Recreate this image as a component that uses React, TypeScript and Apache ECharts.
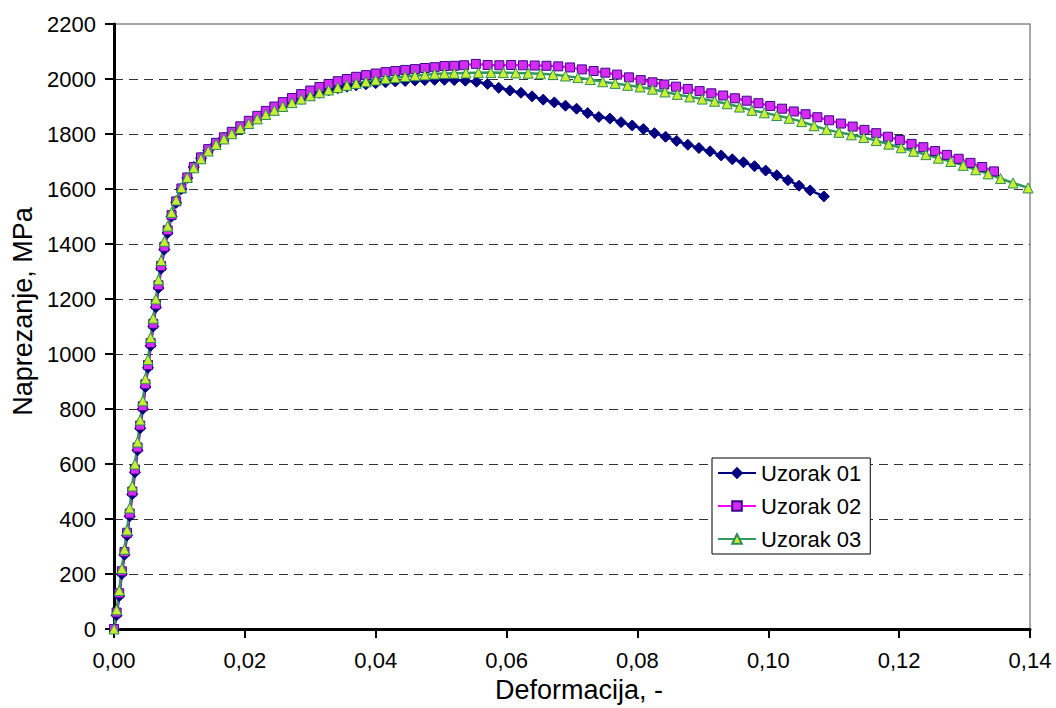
import React, { useEffect, useRef } from "react";
import * as echarts from "echarts";

const xTicks = [0, 0.02, 0.04, 0.06, 0.08, 0.1, 0.12, 0.14];
const seriesNames = ["Uzorak 01", "Uzorak 02", "Uzorak 03"];

const strainBase = [
  0, 0.0004, 0.0008, 0.0012, 0.0016, 0.002, 0.0024, 0.0028, 0.0032, 0.0036,
  0.004, 0.0044, 0.0048, 0.0052, 0.0056, 0.006, 0.0064, 0.0068, 0.0072, 0.0077,
  0.0082, 0.0088, 0.0095, 0.0103, 0.0112, 0.0122, 0.0133, 0.0144, 0.0156, 0.0168,
  0.018, 0.0193, 0.0206, 0.0219, 0.0232, 0.0245, 0.0258, 0.0272, 0.0286, 0.03,
  0.0314, 0.0328, 0.0342, 0.0356, 0.037, 0.0385, 0.04, 0.0415, 0.043, 0.0445,
  0.046, 0.0475, 0.049, 0.0505, 0.052,
];

const strain1 = [
  ...strainBase,
  0.0537, 0.0554, 0.0571, 0.0588, 0.0605, 0.0622, 0.0639, 0.0656, 0.0673, 0.069,
  0.0707, 0.0724, 0.0741, 0.0758, 0.0775, 0.0792, 0.0809, 0.0826, 0.0843, 0.086,
  0.0877, 0.0894, 0.0911, 0.0928, 0.0945, 0.0962, 0.0979, 0.0996, 0.1013, 0.103,
  0.1047, 0.1064, 0.1085,
];
const stress1 = [
  0, 50, 120, 200, 270, 340, 410, 490, 570, 650,
  730, 800, 880, 950, 1030, 1100, 1170, 1240, 1310, 1380,
  1440, 1500, 1550, 1600, 1640, 1680, 1712, 1740, 1765, 1785,
  1803, 1822, 1840, 1857, 1873, 1888, 1902, 1915, 1928, 1940,
  1950, 1959, 1966, 1972, 1977, 1981, 1985, 1988, 1991, 1993,
  1995, 1996, 1997, 1997, 1996,
  1994, 1990, 1982, 1968, 1958, 1950, 1937, 1925, 1915, 1903,
  1892, 1876, 1862, 1856, 1843, 1831, 1818, 1803, 1790, 1775,
  1761, 1749, 1737, 1722, 1708, 1697, 1683, 1667, 1650, 1632,
  1612, 1595, 1573,
];

const strain2 = [
  ...strainBase,
  0.0535, 0.0553, 0.0571, 0.0589, 0.0607, 0.0625, 0.0643, 0.0661, 0.0679, 0.0697,
  0.0715, 0.0733, 0.0751, 0.0769, 0.0787, 0.0805, 0.0823, 0.0841, 0.0859, 0.0877,
  0.0895, 0.0913, 0.0931, 0.0949, 0.0967, 0.0985, 0.1003, 0.1021, 0.1039, 0.1057,
  0.1075, 0.1093, 0.1111, 0.1129, 0.1147, 0.1165, 0.1183, 0.1201, 0.1219, 0.1237,
  0.1255, 0.1273, 0.1291, 0.1309, 0.1327, 0.1345,
];
const stress2 = [
  0, 60, 130, 210, 280, 350, 420, 500, 580, 660,
  740, 810, 890, 960, 1040, 1110, 1180, 1250, 1320, 1390,
  1450, 1505, 1555, 1602, 1642, 1680, 1715, 1745, 1768, 1788,
  1808, 1828, 1848, 1866, 1884, 1900, 1916, 1931, 1945, 1958,
  1971, 1982, 1992, 2000, 2008, 2014, 2020, 2025, 2029, 2033,
  2036, 2040, 2043, 2047, 2048,
  2050, 2055, 2051, 2050, 2051, 2050, 2049, 2048, 2046, 2042,
  2035, 2029, 2023, 2016, 2006, 1996, 1988, 1980, 1972, 1964,
  1956, 1948, 1940, 1930, 1921, 1912, 1902, 1892, 1882, 1872,
  1861, 1850, 1838, 1827, 1815, 1803, 1790, 1778, 1764, 1752,
  1738, 1724, 1710, 1695, 1680, 1664,
];

const strain3 = [
  ...strainBase,
  0.0538, 0.0557, 0.0576, 0.0595, 0.0614, 0.0633, 0.0652, 0.0671, 0.069, 0.0709,
  0.0728, 0.0747, 0.0766, 0.0785, 0.0804, 0.0823, 0.0842, 0.0861, 0.088, 0.0899,
  0.0918, 0.0937, 0.0956, 0.0975, 0.0994, 0.1013, 0.1032, 0.1051, 0.107, 0.1089,
  0.1108, 0.1127, 0.1146, 0.1165, 0.1184, 0.1203, 0.1222, 0.1241, 0.126, 0.1279,
  0.1298, 0.1317, 0.1336, 0.1355, 0.1374, 0.1397,
];
const stress3 = [
  0, 70, 140, 220, 290, 360, 440, 520, 600, 680,
  760, 830, 910, 980, 1060, 1130, 1200, 1270, 1340, 1410,
  1465, 1515, 1560, 1605, 1642, 1677, 1710, 1738, 1762, 1782,
  1801, 1820, 1838, 1855, 1871, 1886, 1900, 1914, 1927, 1939,
  1950, 1960, 1969, 1977, 1984, 1990, 1996, 2001, 2005, 2009,
  2012, 2015, 2018, 2020, 2021,
  2022, 2023, 2024, 2023, 2022, 2021, 2019, 2016, 2011, 2005,
  1998, 1990, 1984, 1977, 1971, 1963, 1953, 1944, 1935, 1927,
  1919, 1910, 1898, 1886, 1877, 1867, 1857, 1845, 1830, 1816,
  1806, 1797, 1787, 1776, 1763, 1750, 1737, 1725, 1712, 1700,
  1686, 1670, 1655, 1638, 1622, 1604,
];

const zip = (xs: number[], ys: number[]) => xs.map((x, i) => [x, ys[i]]);
const FONT = "'Liberation Sans', Arial, sans-serif";

export default function App() {
  const ref = useRef<HTMLDivElement>(null);
  useEffect(() => {
    if (!ref.current) return;
    const chart = echarts.init(ref.current, undefined, { renderer: "svg" });
    chart.setOption({
      animation: false,
      backgroundColor: "#fff",
      textStyle: { fontFamily: FONT },
      grid: {
        left: 114,
        right: 26,
        top: 24,
        bottom: 77,
        show: true,
        borderColor: "#8a8a8a",
        borderWidth: 1.5,
        backgroundColor: "transparent",
      },
      legend: {
        orient: "vertical",
        left: 712,
        top: 458,
        itemWidth: 38,
        itemHeight: 12,
        itemGap: 11,
        padding: [4, 9, 4, 5],
        borderColor: "#000",
        borderWidth: 1,
        backgroundColor: "#fff",
        borderRadius: 0,
        data: seriesNames,
        textStyle: { fontSize: 22, color: "#000", fontFamily: FONT },
      },
      xAxis: {
        type: "value",
        min: 0,
        max: 0.14,
        interval: 0.02,
        name: "Deformacija, -",
        nameLocation: "middle",
        nameGap: 47,
        nameTextStyle: { fontSize: 27, color: "#000", fontFamily: FONT, padding: [0, 0, 0, 14] },
        axisLine: { show: true, onZero: false, lineStyle: { color: "#000", width: 3 } },
        axisTick: { show: true, length: 9, lineStyle: { color: "#000", width: 2 } },
        axisLabel: {
          fontSize: 22,
          color: "#000",
          margin: 20,
          fontFamily: FONT,
          formatter: (v: number) => {
            const t = xTicks.find((k) => Math.abs(k - v) < 1e-9);
            return (t !== undefined ? t : v).toFixed(2).replace(".", ",");
          },
        },
        splitLine: { show: false },
      },
      yAxis: {
        type: "value",
        min: 0,
        max: 2200,
        interval: 200,
        name: "Naprezanje, MPa",
        nameLocation: "middle",
        nameGap: 76,
        nameTextStyle: { fontSize: 27, color: "#000", fontFamily: FONT, padding: [0, 0, 0, 30] },
        axisLine: { show: true, onZero: false, lineStyle: { color: "#000", width: 3 } },
        axisTick: { show: true, length: 9, lineStyle: { color: "#000", width: 2 } },
        axisLabel: {
          fontSize: 22,
          color: "#000",
          margin: 18,
          fontFamily: FONT,
          formatter: (v: number) => String(Math.round(v)),
        },
        splitLine: {
          show: true,
          showMinLine: false,
          showMaxLine: false,
          lineStyle: { color: "#333", width: 1.2, type: [9, 6] },
        },
      },
      series: [
        {
          name: seriesNames[0],
          type: "line",
          data: zip(strain1, stress1),
          symbol: "diamond",
          symbolSize: 11,
          showAllSymbol: true,
          lineStyle: { color: "#000080", width: 2.5 },
          itemStyle: { color: "#000080", borderColor: "#000080", borderWidth: 1 },
        },
        {
          name: seriesNames[1],
          type: "line",
          data: zip(strain2, stress2),
          symbol: "rect",
          symbolSize: 9,
          showAllSymbol: true,
          lineStyle: { color: "#ff00ff", width: 2.5 },
          itemStyle: { color: "#d62af5", borderColor: "#3a0a8a", borderWidth: 1 },
        },
        {
          name: seriesNames[2],
          type: "line",
          data: zip(strain3, stress3),
          symbol: "triangle",
          symbolSize: 10,
          showAllSymbol: true,
          lineStyle: { color: "#2e9a5e", width: 2.5 },
          itemStyle: { color: "#c8f030", borderColor: "#2e8b57", borderWidth: 1 },
        },
      ],
    });
    return () => chart.dispose();
  }, []);
  return (
    <div
      ref={ref}
      style={{ position: "fixed", left: 0, top: 0, width: 1056, height: 708 }}
    />
  );
}
